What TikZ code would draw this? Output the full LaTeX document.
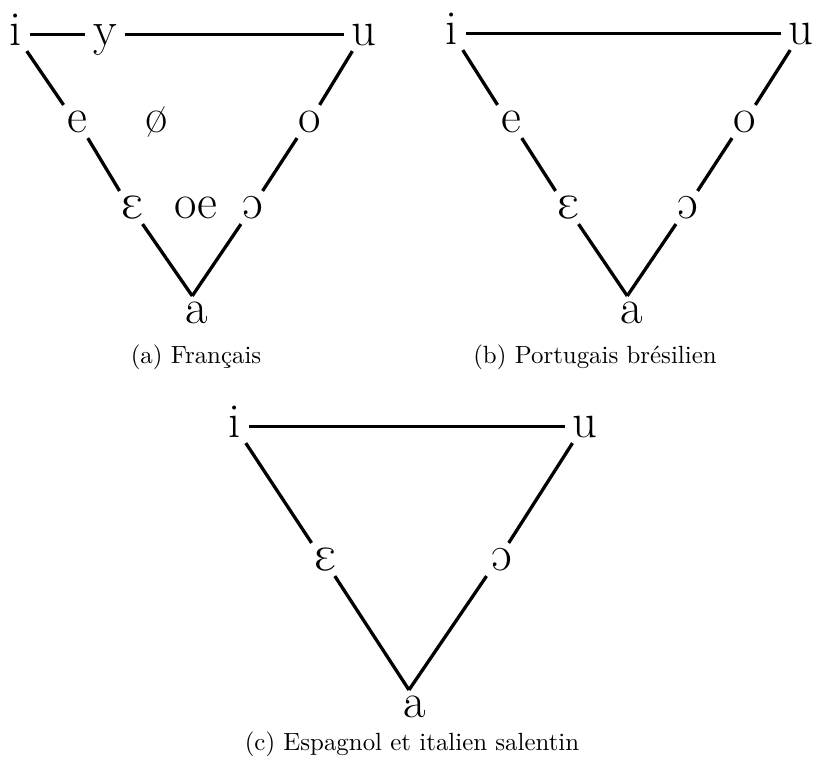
\documentclass[tikz,border=0pt]{standalone}
\usepackage{tipa}
\begin{document}
\begin{tikzpicture}[x=0.41pt,y=-0.41pt,
  vw/.style={font=\fontsize{20}{24}\selectfont,anchor=base,
    text height=9.4pt,text depth=0.8pt,inner xsep=3pt,inner ysep=1.5pt},
  captext/.style={font=\fontsize{10.2}{12}\selectfont,anchor=base,inner sep=0pt},
  ln/.style={line width=1.35pt}]
\useasboundingbox (0,0) rectangle (814,760);
% (a)
\node[vw] (ia) at (16,45) {i};
\node[vw] (ya) at (105,45) {y};
\node[vw] (ua) at (364,45) {u};
\node[vw] (ea) at (77,132) {e};
\node[vw] (oslasha) at (157,132) {\o};
\node[vw] (oa) at (310,132) {o};
\node[vw] (epsa) at (133,218) {\textipa{E}};
\node[vw] (oea) at (196,218) {oe};
\node[vw] (opena) at (253,218) {\textipa{O}};
\node[vw] (aa) at (197,323) {a};
\node[captext] (capa) at (196,363) {(a) Français};
\draw[ln] (ia) -- (ya);
\draw[ln] (ya) -- (ua);
\draw[ln] (ia.303) -- (ea.129);
\draw[ln] (ea.303) -- (epsa.129);
\draw[ln] (epsa.300) -- (aa.106);
\draw[ln] (aa.106) -- (opena.234);
\draw[ln] (opena.60) -- (oa.232);
\draw[ln] (oa.60) -- (ua.235);
% (b)
\node[vw] (ib) at (452,44) {i};
\node[vw] (ub) at (801,44) {u};
\node[vw] (eb) at (511,132) {e};
\node[vw] (ob) at (745,132) {o};
\node[vw] (epsb) at (569,218) {\textipa{E}};
\node[vw] (openb) at (688,218) {\textipa{O}};
\node[vw] (ab) at (632,323) {a};
\node[captext] (capb) at (595,363) {(b) Portugais brésilien};
\draw[ln] (ib) -- (ub);
\draw[ln] (ib.303) -- (eb.129);
\draw[ln] (eb.303) -- (epsb.129);
\draw[ln] (epsb.300) -- (ab.106);
\draw[ln] (ab.106) -- (openb.234);
\draw[ln] (openb.60) -- (ob.232);
\draw[ln] (ob.58) -- (ub.237);
% (c)
\node[vw] (ic) at (235,437) {i};
\node[vw] (uc) at (585,437) {u};
\node[vw] (epsc) at (326,570) {\textipa{E}};
\node[vw] (openc) at (502,570) {\textipa{O}};
\node[vw] (ac) at (415,717) {a};
\node[captext] (capc) at (412,750) {(c) Espagnol et italien salentin};
\draw[ln] (ic) -- (uc);
\draw[ln] (ic.303) -- (epsc.131);
\draw[ln] (epsc.298) -- (ac.110);
\draw[ln] (ac.110) -- (openc.227);
\draw[ln] (openc.68) -- (uc.233);
\end{tikzpicture}
\end{document}
